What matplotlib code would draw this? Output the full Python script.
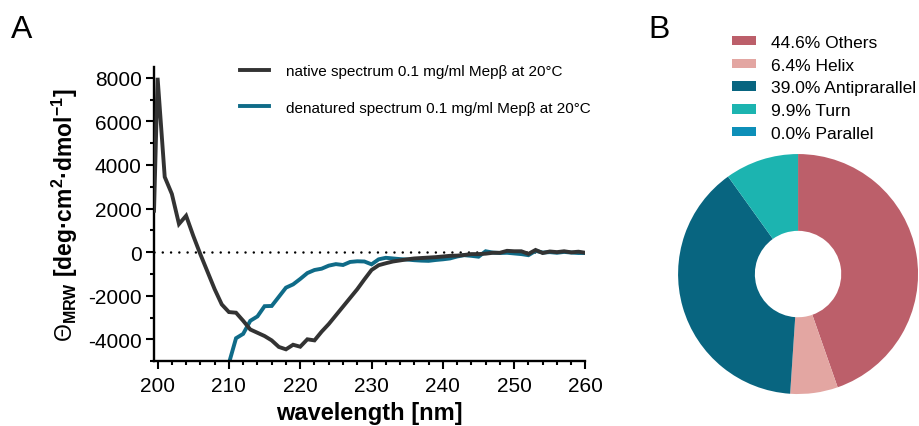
import numpy as np
import matplotlib
matplotlib.use('Agg')
from matplotlib import pyplot as plt
from matplotlib.ticker import MultipleLocator

plt.rcParams['font.family'] = ['Liberation Sans', 'DejaVu Sans']
plt.rcParams['mathtext.fontset'] = 'custom'
plt.rcParams['mathtext.rm'] = 'Liberation Sans'
plt.rcParams['mathtext.bf'] = 'Liberation Sans:bold'
plt.rcParams['mathtext.it'] = 'Liberation Sans:italic'
plt.rcParams['axes.unicode_minus'] = False

# CD spectra (wavelength in nm, molar residue ellipticity)
native_wl = [199.5] + list(range(200, 261))
native_val = [1900, 8000, 3450, 2670, 1290, 1670, 750, -100, -900, -1700, -2400,
              -2750, -2780, -3150, -3550, -3700, -3850, -4050, -4350, -4460, -4250,
              -4340, -4000, -4050, -3650, -3300, -2900, -2500, -2100, -1700, -1250,
              -820, -600, -510, -430, -380, -330, -290, -270, -250, -230,
              -200, -170, -160, -130, -90, -90, -70, -30, -30, 60,
              40, 40, -80, 100, -40, 30, 0, 40, -10, 20, -30]

denat_wl = list(range(210, 261))
denat_val = [-5100, -3950, -3750, -3150, -2950, -2480, -2470, -2050, -1630, -1480,
             -1230, -960, -820, -760, -620, -550, -590, -450, -420, -430,
             -560, -330, -260, -290, -320, -340, -370, -390, -400, -360,
             -330, -290, -200, -140, -170, -210, 40, -20, -40, -30,
             -60, -90, -140, 60, -20, 0, -30, 10, -20, -40, -40]

native_label = 'native spectrum 0.1 mg/ml Mepβ at 20°C'
denat_label = 'denatured spectrum 0.1 mg/ml Mepβ at 20°C'

# secondary structure content
ss_labels = ['Others', 'Helix', 'Antiprarallel', 'Turn', 'Parallel']
ss_pct = [44.6, 6.4, 39.0, 9.9, 0.0]
ss_colors = ['#bc5f6a', '#e3a6a2', '#086580', '#1cb4b0', '#0d8fb8']

fig = plt.figure(figsize=(9.19, 4.27), dpi=100)

ax = fig.add_axes([0.1676, 0.152, 0.4695, 0.689])
ax.axhline(0, color='black', lw=1.8, linestyle=(0, (0.01, 3.3)),
           dash_capstyle='round', zorder=1)
ax.plot(native_wl, native_val, color='#333333', lw=2.8, label=native_label,
        solid_joinstyle='miter', zorder=3)
ax.plot(denat_wl, denat_val, color='#0f6b88', lw=2.8, label=denat_label,
        solid_joinstyle='miter', zorder=2)

ax.set_xlim(199.5, 260)
ax.set_ylim(-5000, 8500)
ax.xaxis.set_major_locator(MultipleLocator(10))
ax.xaxis.set_minor_locator(MultipleLocator(2))
ax.set_yticks([-4000, -2000, 0, 2000, 4000, 6000, 8000])
ax.yaxis.set_minor_locator(MultipleLocator(1000))
ax.spines['top'].set_visible(False)
ax.spines['right'].set_visible(False)
for s in ['left', 'bottom']:
    ax.spines[s].set_linewidth(1.7)
ax.tick_params(which='major', length=5.8, width=1.5, labelsize=15, pad=3)
ax.tick_params(which='minor', length=3.2, width=1.5)
ax.tick_params(axis='x', which='major', pad=5)

ax.set_xlabel('wavelength [nm]', fontsize=17, fontweight='bold', labelpad=4)
ax.set_ylabel(r'$\Theta_{\mathbf{MRW}}$ [deg·cm$^{\mathbf{2}}$·dmol$^{\mathbf{-1}}$]',
              fontsize=16.5, fontweight='bold', labelpad=6)

ax.legend(loc='upper left', bbox_to_anchor=(0.167, 1.055), frameon=False,
          fontsize=11, handlelength=1.9, handletextpad=1.1, labelspacing=1.45)

# donut
axp = fig.add_axes([0.7378, 0.0749, 0.2612, 0.562])
wedges, _ = axp.pie(ss_pct, colors=ss_colors, startangle=90, counterclock=False,
                    radius=1, wedgeprops=dict(width=0.64, linewidth=0))
axp.set_xlim(-1, 1)
axp.set_ylim(-1, 1)
axp.set_aspect('equal')
axp.axis('off')

leg_labels = ['%.1f%% %s' % (p, n) for p, n in zip(ss_pct, ss_labels)]
fig.legend(wedges, leg_labels, loc='upper left', bbox_to_anchor=(0.7795, 0.953),
           frameon=False, fontsize=12.5, handlelength=1.38, handleheight=0.45,
           handletextpad=0.86, labelspacing=0.45)

fig.text(0.012, 0.912, 'A', fontsize=23)
fig.text(0.706, 0.912, 'B', fontsize=23)

fig.savefig('out.png', dpi=100)
